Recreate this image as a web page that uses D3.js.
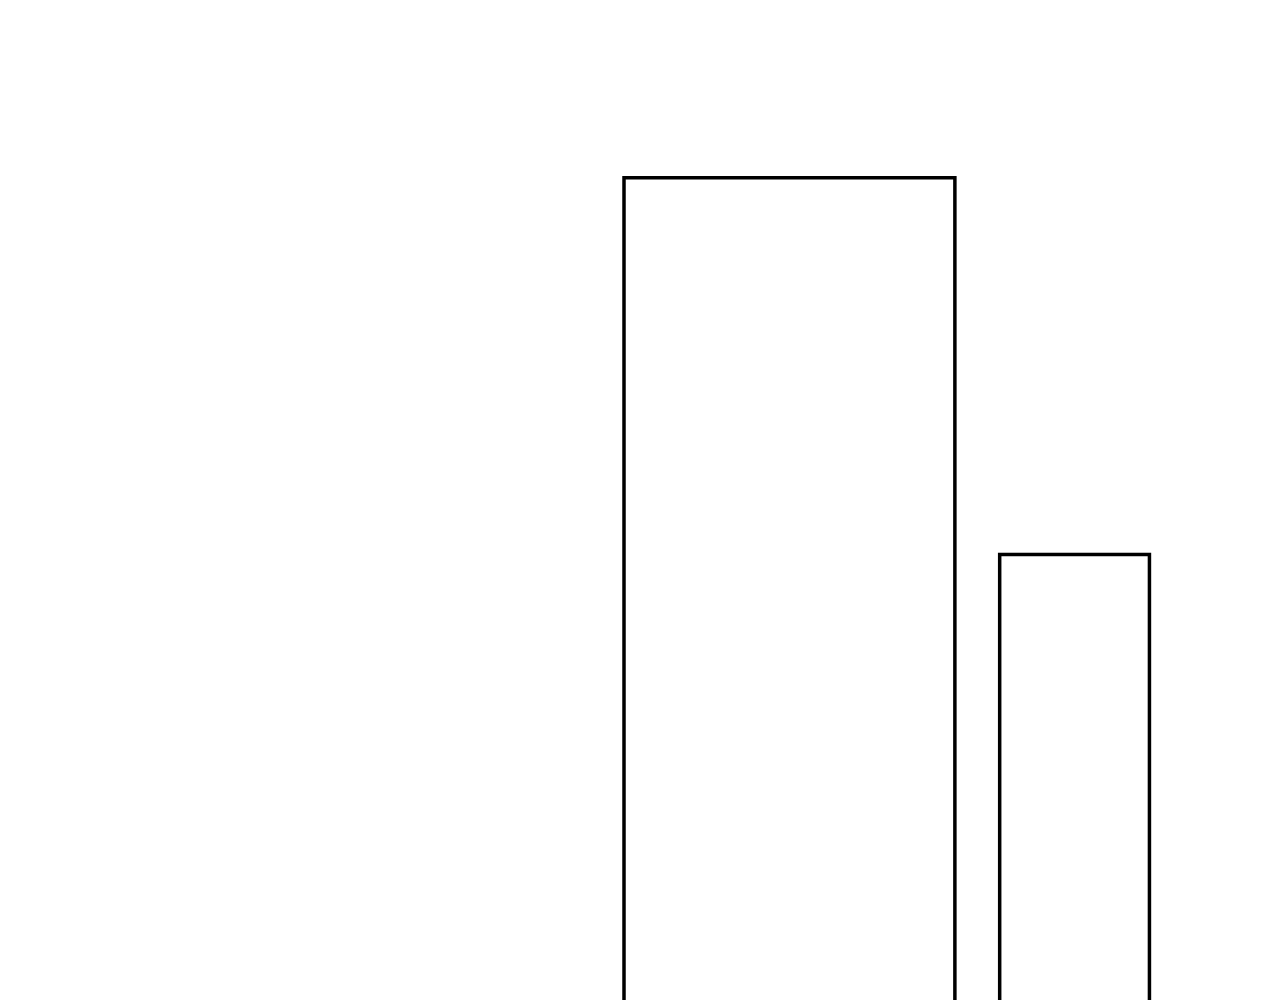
<!DOCTYPE html>
<html>
<head>
<meta charset="utf-8">
<script src="https://cdn.jsdelivr.net/npm/d3@7"></script>
<style>
  html, body { margin: 0; padding: 0; background: #fff; overflow: hidden; }
</style>
</head>
<body>
<div id="chart"></div>
<script>
// two outlined bars, cut off at the bottom of the view
const categories = ["A", "B"];
const barStart = [48.75, 78.1];
const barEnd = [74.6, 89.8];
const barValues = [82.4, 45.1];

const width = 1280, height = 1000;

const svg = d3.select("#chart").append("svg")
    .attr("width", width)
    .attr("height", height);

const x = d3.scaleLinear().domain([0, 100]).range([0, width]);
const y = d3.scaleLinear().domain([0, 100]).range([1010, 0]);

svg.selectAll("rect.bar")
    .data(categories)
    .join("rect")
    .attr("class", "bar")
    .attr("x", (d, i) => x(barStart[i]))
    .attr("y", (d, i) => y(barValues[i]))
    .attr("width", (d, i) => x(barEnd[i]) - x(barStart[i]))
    .attr("height", (d, i) => y(0) - y(barValues[i]) + 20)
    .attr("fill", "none")
    .attr("stroke", "#000")
    .attr("stroke-width", 3.5);
</script>
</body>
</html>
